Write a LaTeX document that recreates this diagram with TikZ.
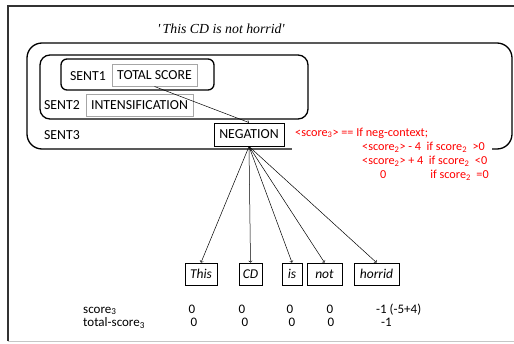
\documentclass[tikz,border=0pt]{standalone}
\usepackage{fontspec}
\setmainfont{Carlito}
\newfontfamily\titlefont{Liberation Serif}
\begin{document}
\begin{tikzpicture}[x=1pt,y=-1pt,
  every node/.style={font=\fontsize{13.8}{15}\selectfont, inner sep=0pt},
  container/.style={draw=black, line width=1.3pt},
  graybox/.style={draw=gray!70, line width=1pt},
  blackbox/.style={draw=black, line width=0.9pt},
  wordbox/.style={draw=black, line width=0.8pt, font=\fontsize{13.5}{15}\selectfont\itshape},
  arr/.style={->, line width=0.5pt},
  redtext/.style={text=red, font=\fontsize{12.2}{14.2}\selectfont, align=left},
  rowtext/.style={font=\fontsize{13}{14}\selectfont}
]
\useasboundingbox (0,0) rectangle (514,343);
% frame
\draw[gray!40!black, line width=1.8pt] (8,341) -- (8,6) -- (514,6);
\draw[gray!45, line width=1.2pt] (8,341.5) -- (514,341.5);

% title
\node[font=\titlefont\fontsize{13.8}{15}\selectfont\itshape] (title) at (221,29) {'\,This CD is not horrid'};

% containers
\node[container, rounded corners=15pt, minimum width=485pt, minimum height=106pt] (s3) at (269.5,96) {};
\node[container, rounded corners=10pt, minimum width=268pt, minimum height=64pt] (s2) at (174,87) {};
\node[container, rounded corners=6pt, minimum width=153pt, minimum height=31pt] (s1) at (137.5,74.5) {};

% labels
\node (l1) at (88,76) {SENT1};
\node (l2) at (62,105) {SENT2};
\node (l3) at (62,135) {SENT3};

\node[graybox, minimum width=85pt, minimum height=22pt] (ts) at (154.5,75) {TOTAL SCORE};
\node[graybox, minimum width=107pt, minimum height=22pt] (int) at (139.5,105) {INTENSIFICATION};
\node[blackbox, minimum width=70pt, minimum height=23pt] (neg) at (249,134.5) {NEGATION};

% red condition text
\node[redtext, anchor=north west, fill=white, inner xsep=3pt, inner ysep=0.5pt] (cond) at (292,127)
 {<score\textsubscript{3}> == If neg-context;\\
  \hspace*{67pt}<score\textsubscript{2}> - 4\ \ if score\textsubscript{2}\ \ >0\\
  \hspace*{67pt}<score\textsubscript{2}> + 4\ \ if score\textsubscript{2}\ \ <0\\
  \hspace*{85pt}0\hspace*{44pt}if score\textsubscript{2}\ \ =0};

% word boxes
\node[wordbox, minimum width=32pt, minimum height=22pt] (w1) at (201,274) {This};
\node[wordbox, minimum width=23pt, minimum height=22pt] (w2) at (250.5,274) {CD};
\node[wordbox, minimum width=20pt, minimum height=22pt] (w3) at (292,274) {is};
\node[wordbox, minimum width=35pt, minimum height=22pt] (w4) at (324.5,274) {not};
\node[wordbox, minimum width=45pt, minimum height=22pt] (w5) at (376.5,274) {horrid};

% arrows
\draw[arr] (ts.south) -- (neg.north);
\foreach \w in {w1,w2,w3,w4,w5} \draw[arr] (neg.south) -- (\w.north);

% score rows
\node[rowtext, anchor=base west] (r1) at (83,313) {score\textsubscript{3}};
\node[rowtext, anchor=base west] (r2) at (83,326.5) {total-score\textsubscript{3}};
\node[rowtext, anchor=base] (a1) at (192,313) {0};
\node[rowtext, anchor=base] (a2) at (242,313) {0};
\node[rowtext, anchor=base] (a3) at (290,313) {0};
\node[rowtext, anchor=base] (a4) at (330,313) {0};
\node[rowtext, anchor=base west] (a5) at (376,313) {-1 (-5+4)};
\node[rowtext, anchor=base] (b1) at (194,326.5) {0};
\node[rowtext, anchor=base] (b2) at (245,326.5) {0};
\node[rowtext, anchor=base] (b3) at (292,326.5) {0};
\node[rowtext, anchor=base] (b4) at (331,326.5) {0};
\node[rowtext, anchor=base west] (b5) at (381,326.5) {-1};
\end{tikzpicture}
\end{document}
